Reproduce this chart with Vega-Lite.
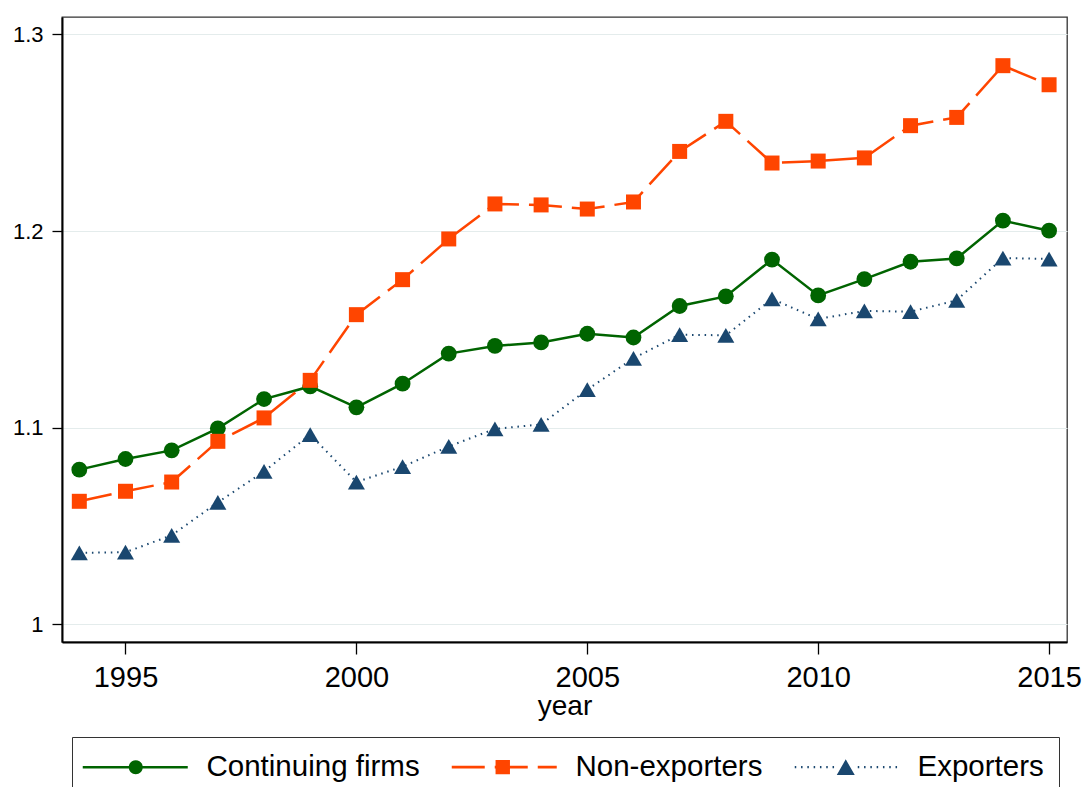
{
 "$schema": "https://vega.github.io/schema/vega-lite/v6.json",
 "width": 1005,
 "height": 625,
 "autosize": {"type": "none"},
 "padding": {"left": 62, "top": 17, "right": 19, "bottom": 145},
 "background": "white",
 "config": {
  "font": "Liberation Sans",
  "view": {"stroke": "#333333", "strokeWidth": 1.3},
  "axis": {"domainColor": "black", "domainWidth": 2, "tickColor": "black", "tickWidth": 1.3, "labelColor": "black", "titleColor": "black", "labelFont": "Liberation Sans", "titleFont": "Liberation Sans", "titleFontWeight": "normal"}
 },
 "data": {"values": [
  {"year": 1994, "series": "Continuing firms", "value": 1.0787},
  {"year": 1995, "series": "Continuing firms", "value": 1.0841},
  {"year": 1996, "series": "Continuing firms", "value": 1.0885},
  {"year": 1997, "series": "Continuing firms", "value": 1.0997},
  {"year": 1998, "series": "Continuing firms", "value": 1.1146},
  {"year": 1999, "series": "Continuing firms", "value": 1.1210},
  {"year": 2000, "series": "Continuing firms", "value": 1.1104},
  {"year": 2001, "series": "Continuing firms", "value": 1.1224},
  {"year": 2002, "series": "Continuing firms", "value": 1.1377},
  {"year": 2003, "series": "Continuing firms", "value": 1.1416},
  {"year": 2004, "series": "Continuing firms", "value": 1.1434},
  {"year": 2005, "series": "Continuing firms", "value": 1.1478},
  {"year": 2006, "series": "Continuing firms", "value": 1.1459},
  {"year": 2007, "series": "Continuing firms", "value": 1.1619},
  {"year": 2008, "series": "Continuing firms", "value": 1.1668},
  {"year": 2009, "series": "Continuing firms", "value": 1.1855},
  {"year": 2010, "series": "Continuing firms", "value": 1.1673},
  {"year": 2011, "series": "Continuing firms", "value": 1.1756},
  {"year": 2012, "series": "Continuing firms", "value": 1.1844},
  {"year": 2013, "series": "Continuing firms", "value": 1.1861},
  {"year": 2014, "series": "Continuing firms", "value": 1.2053},
  {"year": 2015, "series": "Continuing firms", "value": 1.2002},
  {"year": 1994, "series": "Non-exporters", "value": 1.0626},
  {"year": 1995, "series": "Non-exporters", "value": 1.0677},
  {"year": 1996, "series": "Non-exporters", "value": 1.0724},
  {"year": 1997, "series": "Non-exporters", "value": 1.0931},
  {"year": 1998, "series": "Non-exporters", "value": 1.1050},
  {"year": 1999, "series": "Non-exporters", "value": 1.1241},
  {"year": 2000, "series": "Non-exporters", "value": 1.1575},
  {"year": 2001, "series": "Non-exporters", "value": 1.1753},
  {"year": 2002, "series": "Non-exporters", "value": 1.1960},
  {"year": 2003, "series": "Non-exporters", "value": 1.2138},
  {"year": 2004, "series": "Non-exporters", "value": 1.2133},
  {"year": 2005, "series": "Non-exporters", "value": 1.2112},
  {"year": 2006, "series": "Non-exporters", "value": 1.2148},
  {"year": 2007, "series": "Non-exporters", "value": 1.2405},
  {"year": 2008, "series": "Non-exporters", "value": 1.2558},
  {"year": 2009, "series": "Non-exporters", "value": 1.2346},
  {"year": 2010, "series": "Non-exporters", "value": 1.2356},
  {"year": 2011, "series": "Non-exporters", "value": 1.2372},
  {"year": 2012, "series": "Non-exporters", "value": 1.2536},
  {"year": 2013, "series": "Non-exporters", "value": 1.2578},
  {"year": 2014, "series": "Non-exporters", "value": 1.2841},
  {"year": 2015, "series": "Non-exporters", "value": 1.2744},
  {"year": 1994, "series": "Exporters", "value": 1.0364},
  {"year": 1995, "series": "Exporters", "value": 1.0367},
  {"year": 1996, "series": "Exporters", "value": 1.0453},
  {"year": 1997, "series": "Exporters", "value": 1.0621},
  {"year": 1998, "series": "Exporters", "value": 1.0778},
  {"year": 1999, "series": "Exporters", "value": 1.0965},
  {"year": 2000, "series": "Exporters", "value": 1.0724},
  {"year": 2001, "series": "Exporters", "value": 1.0802},
  {"year": 2002, "series": "Exporters", "value": 1.0905},
  {"year": 2003, "series": "Exporters", "value": 1.0994},
  {"year": 2004, "series": "Exporters", "value": 1.1017},
  {"year": 2005, "series": "Exporters", "value": 1.1194},
  {"year": 2006, "series": "Exporters", "value": 1.1353},
  {"year": 2007, "series": "Exporters", "value": 1.1473},
  {"year": 2008, "series": "Exporters", "value": 1.1470},
  {"year": 2009, "series": "Exporters", "value": 1.1655},
  {"year": 2010, "series": "Exporters", "value": 1.1553},
  {"year": 2011, "series": "Exporters", "value": 1.1594},
  {"year": 2012, "series": "Exporters", "value": 1.1590},
  {"year": 2013, "series": "Exporters", "value": 1.1648},
  {"year": 2014, "series": "Exporters", "value": 1.1863},
  {"year": 2015, "series": "Exporters", "value": 1.1858}
 ]},
 "encoding": {
  "x": {"field": "year", "type": "quantitative",
   "scale": {"domain": [1993.625, 2015.388], "nice": false, "zero": false},
   "axis": {"values": [1995, 2000, 2005, 2010, 2015], "format": "d", "labelFontSize": 29, "tickSize": 12, "labelPadding": 9, "title": "year", "titleFontSize": 28, "titlePadding": 0, "grid": false, "labelFlush": false, "labelOverlap": false}},
  "y": {"field": "value", "type": "quantitative",
   "scale": {"domain": [0.99106, 1.30885], "nice": false, "zero": false},
   "axis": {"values": [1, 1.1, 1.2, 1.3], "format": "~g", "labelFontSize": 22, "tickSize": 10, "labelPadding": 9, "title": null, "grid": true, "gridColor": "#e4ecec", "gridWidth": 1.2, "labelFlush": false}}
 },
 "layer": [
  {"transform": [{"filter": "datum.series === 'Continuing firms'"}],
   "mark": {"type": "line", "color": "#006400", "strokeWidth": 2.5}},
  {"transform": [{"filter": "datum.series === 'Continuing firms'"}],
   "mark": {"type": "point", "filled": true, "opacity": 1, "shape": "circle", "size": 250, "color": "#006400"}},
  {"transform": [{"filter": "datum.series === 'Non-exporters'"}],
   "mark": {"type": "line", "color": "#ff4500", "strokeWidth": 2.5, "strokeDash": [33, 10]}},
  {"transform": [{"filter": "datum.series === 'Non-exporters'"}],
   "mark": {"type": "point", "filled": true, "opacity": 1, "shape": "square", "size": 225, "color": "#ff4500"}},
  {"transform": [{"filter": "datum.series === 'Exporters'"}],
   "mark": {"type": "line", "color": "#1a476f", "strokeWidth": 2, "strokeDash": [1.5, 4.8]}},
  {"transform": [{"filter": "datum.series === 'Exporters'"}],
   "mark": {"type": "point", "filled": true, "opacity": 1, "shape": "triangle-up", "size": 290, "color": "#1a476f"}},
  {"transform": [{"filter": "datum.year < 0"}],
   "mark": {"type": "point", "filled": true, "opacity": 1, "size": 400},
   "encoding": {
    "color": {"field": "series", "type": "nominal",
     "scale": {"domain": ["Continuing firms", "Non-exporters", "Exporters"], "range": ["#006400", "#ff4500", "#1a476f"]},
     "legend": {"title": null, "orient": "none", "legendX": 10, "legendY": 720, "direction": "horizontal", "columns": 3, "padding": 15, "strokeColor": "#333333", "fillColor": "white", "cornerRadius": 0, "symbolSize": 400, "symbolStrokeWidth": 0, "symbolOpacity": 1, "labelFontSize": 29.5, "labelFont": "Liberation Sans", "labelColor": "black", "labelOffset": 90, "labelLimit": 0, "columnPadding": 31, "rowPadding": 0}},
    "shape": {"field": "series", "type": "nominal",
     "scale": {"domain": ["Continuing firms", "Non-exporters", "Exporters"], "range": [
      "M-1.9,-0.125L8.6,-0.125L8.6,0.125L-1.9,0.125Z M4.1,0A0.7,0.7 0 1 1 2.7,0A0.7,0.7 0 1 1 4.1,0Z",
      "M-1.9,-0.13L1.4,-0.13L1.4,0.13L-1.9,0.13Z M2.4,-0.13L5.7,-0.13L5.7,0.13L2.4,0.13Z M6.7,-0.13L8.6,-0.13L8.6,0.13L6.7,0.13Z M2.48,-0.72L3.92,-0.72L3.92,0.72L2.48,0.72Z",
      "M-1.8,-0.11L-1.65,-0.11L-1.65,0.11L-1.8,0.11Z M-1.17,-0.11L-1.02,-0.11L-1.02,0.11L-1.17,0.11Z M-0.54,-0.11L-0.39,-0.11L-0.39,0.11L-0.54,0.11Z M0.09,-0.11L0.24,-0.11L0.24,0.11L0.09,0.11Z M0.72,-0.11L0.87,-0.11L0.87,0.11L0.72,0.11Z M1.35,-0.11L1.5,-0.11L1.5,0.11L1.35,0.11Z M1.98,-0.11L2.13,-0.11L2.13,0.11L1.98,0.11Z M4.5,-0.11L4.65,-0.11L4.65,0.11L4.5,0.11Z M5.13,-0.11L5.28,-0.11L5.28,0.11L5.13,0.11Z M5.76,-0.11L5.91,-0.11L5.91,0.11L5.76,0.11Z M6.39,-0.11L6.54,-0.11L6.54,0.11L6.39,0.11Z M7.02,-0.11L7.17,-0.11L7.17,0.11L7.02,0.11Z M7.65,-0.11L7.8,-0.11L7.8,0.11L7.65,0.11Z M8.28,-0.11L8.43,-0.11L8.43,0.11L8.28,0.11Z M3.3,-0.78L4.2,0.78L2.4,0.78Z"
     ]},
     "legend": {"title": null, "orient": "none", "legendX": 10, "legendY": 720, "direction": "horizontal", "columns": 3, "padding": 15, "strokeColor": "#333333", "fillColor": "white", "cornerRadius": 0, "symbolSize": 400, "symbolStrokeWidth": 0, "symbolOpacity": 1, "labelFontSize": 29.5, "labelFont": "Liberation Sans", "labelColor": "black", "labelOffset": 90, "labelLimit": 0, "columnPadding": 31, "rowPadding": 0}}
   }}
 ]
}
